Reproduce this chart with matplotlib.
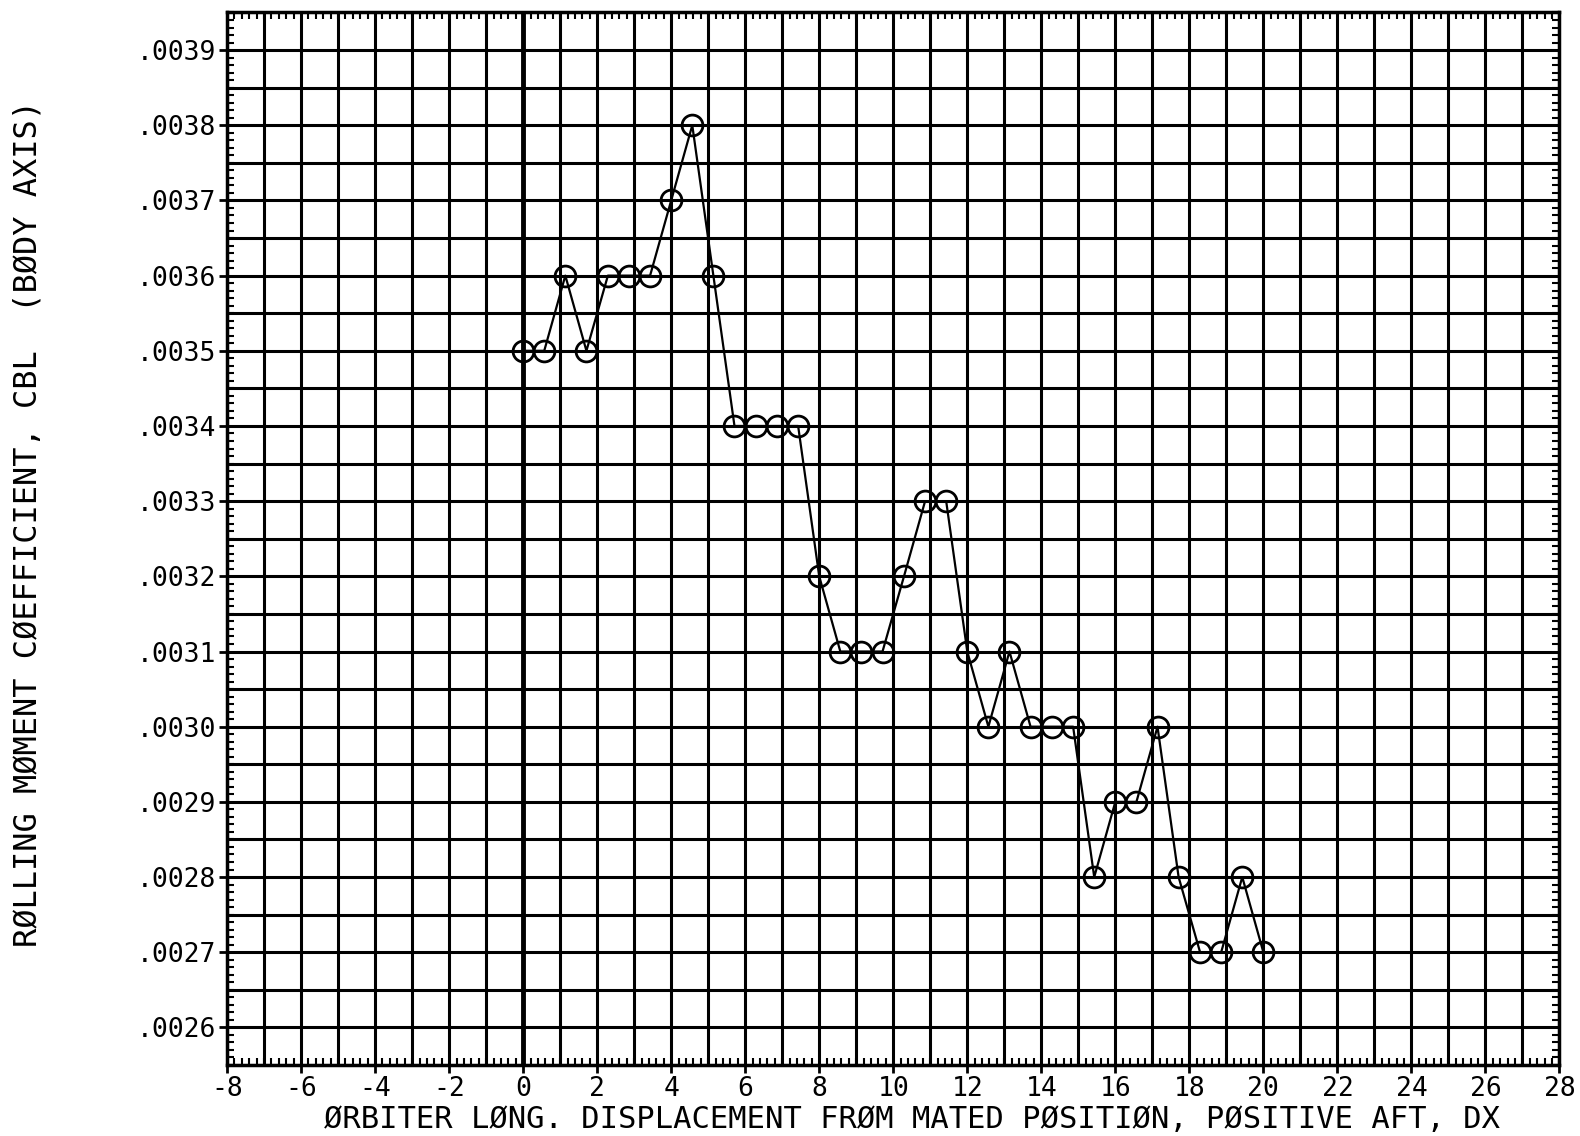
import numpy as np
import matplotlib
matplotlib.use("Agg")
import matplotlib.pyplot as plt
from matplotlib.ticker import MultipleLocator, FuncFormatter

# Data (orbiter displacement vs rolling moment coefficient)
dx = [0.0, 0.57, 1.14, 1.71, 2.29, 2.86, 3.43, 4.0, 4.57, 5.14, 5.71, 6.29,
      6.86, 7.43, 8.0, 8.57, 9.14, 9.71, 10.29, 10.86, 11.43, 12.0, 12.57, 13.14,
      13.71, 14.29, 14.86, 15.43, 16.0, 16.57, 17.14, 17.71, 18.29, 18.86, 19.43, 20.0]
cbl = [0.0035, 0.0035, 0.0036, 0.0035, 0.0036, 0.0036, 0.0036, 0.0037, 0.0038, 0.0036,
       0.0034, 0.0034, 0.0034, 0.0034, 0.0032, 0.0031, 0.0031, 0.0031, 0.0032, 0.0033,
       0.0033, 0.0031, 0.0030, 0.0031, 0.0030, 0.0030, 0.0030, 0.0028, 0.0029, 0.0029,
       0.0030, 0.0028, 0.0027, 0.0027, 0.0028, 0.0027]

x_grid = np.arange(-8, 29, 1)
y_grid = np.arange(0.00255, 0.003951, 0.00005)

plt.rcParams['font.family'] = ['DejaVu Sans Mono']

fig = plt.figure(figsize=(15.8, 11.36), dpi=100)
ax = fig.add_axes([0.1437, 0.0625, 0.8433, 0.9265])

# Graph paper grid
ax.vlines(x_grid, 0.00255, 0.00395, colors='black', linewidth=2.2, zorder=1)
ax.hlines(y_grid, -8, 28, colors='black', linewidth=2.2, zorder=1)
ax.axvline(0, color='black', linewidth=3.5, zorder=1)

# Measured data
ax.plot(dx, cbl, color='black', linewidth=1.6, marker='o', markersize=15,
        markerfacecolor='none', markeredgecolor='black', markeredgewidth=2.0, zorder=3)

ax.set_xlim(-8, 28)
ax.set_ylim(0.00255, 0.00395)

ax.xaxis.set_major_locator(MultipleLocator(2))
ax.xaxis.set_minor_locator(MultipleLocator(0.2))
ax.yaxis.set_major_locator(MultipleLocator(0.0001))
ax.yaxis.set_minor_locator(MultipleLocator(0.00001))
ax.yaxis.set_major_formatter(FuncFormatter(lambda v, p: f"{v:.4f}".lstrip('0')))
ax.xaxis.set_major_formatter(FuncFormatter(lambda v, p: f"{v:.0f}"))

ax.tick_params(axis='both', which='major', direction='out', length=6, width=2,
               labelsize=19, pad=2)
ax.tick_params(axis='both', which='minor', direction='in', length=5, width=1.5,
               top=True, right=True)

for s in ax.spines.values():
    s.set_linewidth(2.5)

fig.text(0.577, 0.007, "ØRBITER LØNG. DISPLACEMENT FRØM MATED PØSITIØN, PØSITIVE AFT, DX",
         fontsize=22, ha='center', va='baseline')
fig.text(28 / 1580, 1 - 524 / 1136, "RØLLING MØMENT CØEFFICIENT, CBL  (BØDY AXIS)",
         fontsize=23, rotation=90, ha='center', va='center')

fig.savefig("out.png", dpi=100)
